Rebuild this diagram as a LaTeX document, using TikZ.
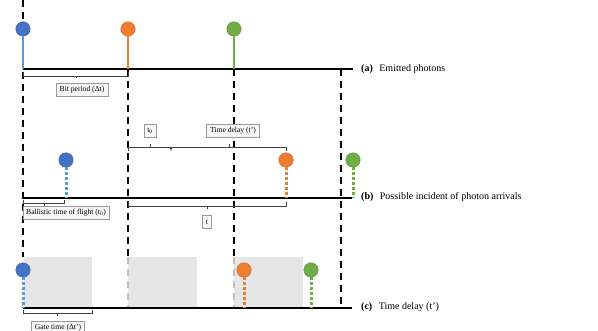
\documentclass[tikz,border=0pt]{standalone}
\usepackage{fontspec}
\setmainfont{Liberation Serif}
\definecolor{pblue}{HTML}{4472C4}
\definecolor{lblue}{HTML}{5B9BD5}
\definecolor{porange}{HTML}{ED7D31}
\definecolor{pgreen}{HTML}{70AD47}
\definecolor{gatefill}{HTML}{E7E6E6}
\tikzset{
  photon/.style={circle, minimum size=14.5pt, inner sep=0pt, draw=#1!85!black, fill=#1, line width=0.4pt},
  axisline/.style={line width=2.1pt, black},
  vdash/.style={line width=2.1pt, dash pattern=on 7pt off 5pt},
  gdash/.style={line width=1.8pt, dash pattern=on 7pt off 5pt, draw=black!25},
  stem/.style={line width=2.7pt},
  dstem/.style={line width=3pt, dash pattern=on 2.8pt off 2.2pt},
  brk/.style={line width=0.7pt, draw=black!75},
  lbox/.style={draw=gray!80, fill=gray!7, font=\fontsize{7.6}{8}\selectfont, inner xsep=3.5pt, inner ysep=1pt, minimum height=13pt},
  lab/.style={anchor=west, font=\fontsize{10}{11}\selectfont, inner sep=0pt},
  gate/.style={fill=gatefill, draw=none}
}
\begin{document}
\begin{tikzpicture}[x=1pt,y=-1pt]
\useasboundingbox (0,0) rectangle (598,331);
% gate windows
\fill[gate] (24,257) rectangle (92,308);
\fill[gate] (128,257) rectangle (197,307);
\fill[gate] (234,257) rectangle (303,307);
% axis coordinates
\coordinate (a0) at (23,69); \coordinate (a1) at (128,69); \coordinate (a2) at (234,69); \coordinate (a3) at (341,69); \coordinate (aE) at (353,69);
\coordinate (b0) at (23,198); \coordinate (bE) at (352,198);
\coordinate (c0) at (23,308); \coordinate (cE) at (352,308);
% vertical dashed lines
\coordinate (top0) at (23,0); \coordinate (g0) at (23,257);
\coordinate (g1) at (128,257); \coordinate (e1) at (128,307);
\coordinate (g2) at (234,257); \coordinate (e2) at (234,307);
\coordinate (e3) at (341,308);
\draw[vdash] (top0) -- (g0);
\draw[vdash] (a1) -- (g1);
\draw[gdash] (g1) -- (e1);
\draw[vdash] (a2) -- (g2);
\draw[gdash] (g2) -- (e2);
\draw[vdash] (a3) -- (e3);
% axes
\draw[axisline] (a0) -- (aE);
\draw[axisline] (b0) -- (bE);
\draw[axisline] (c0) -- (cE);
% axis labels
\node[lab] (la) at (361,69) {\textbf{(a)}\hspace{6.5pt}Emitted photons};
\node[lab] (lb) at (361,197) {\textbf{(b)}\hspace{6.5pt}Possible incident of photon arrivals};
\node[lab] (lc) at (361,307) {\textbf{(c)}\hspace{6.5pt}Time delay (t')};
% (a) emitted photons
\node[photon=pblue] (pa1) at (23,29) {};
\node[photon=porange] (pa2) at (128,29) {};
\node[photon=pgreen] (pa3) at (234,29) {};
\draw[stem, lblue] (pa1.south) -- (a0);
\draw[stem, porange] (pa2.south) -- (a1);
\draw[stem, pgreen] (pa3.south) -- (a2);
% (b) arrivals
\node[photon=pblue] (pb1) at (66,160) {};
\node[photon=porange] (pb2) at (286,160) {};
\node[photon=pgreen] (pb3) at (353,160) {};
\coordinate (bb1) at (66,198); \coordinate (bb2) at (286,198); \coordinate (bb3) at (353,198);
\draw[dstem, lblue] (pb1.south) -- (bb1);
\draw[dstem, porange] (pb2.south) -- (bb2);
\draw[dstem, pgreen] (pb3.south) -- (bb3);
% (c) time delay
\node[photon=pblue] (pc1) at (23,270) {};
\node[photon=porange] (pc2) at (244,270) {};
\node[photon=pgreen] (pc3) at (311,270) {};
\coordinate (cc1) at (23,308); \coordinate (cc2) at (244,308); \coordinate (cc3) at (311,308);
\draw[dstem, lblue] (pc1.south) -- (cc1);
\draw[dstem, porange] (pc2.south) -- (cc2);
\draw[dstem, pgreen] (pc3.south) -- (cc3);
% brackets
\draw[brk] (23,72) -- (23,76) -- (128,76) -- (128,72);
\draw[brk] (76,76) -- (76,78.5);
\draw[brk] (23,200) -- (23,203.5) -- (64,203.5) -- (64,200);
\draw[brk] (44,203.5) -- (44,206);
\draw[brk] (128,202) -- (128,206) -- (286,206) -- (286,202);
\draw[brk] (207,206) -- (207,209);
\draw[brk] (128,151) -- (128,147) -- (286,147) -- (286,151);
\draw[brk] (150,147) -- (150,144.5);
\draw[brk] (170,147) -- (171,150) -- (172,147);
\draw[brk] (229,147) -- (229,144.5);
\draw[brk] (23,310) -- (23,313.5) -- (92,313.5) -- (92,310);
\draw[brk] (57,313.5) -- (57,316);
% label boxes
\node[lbox] (bit) at (82,89.5) {Bit period (Δt)};
\node[lbox] (tzero) at (150,131) {t\textsubscript{0}};
\node[lbox] (tdel) at (233,130.5) {Time delay (t')};
\node[lbox] (ball) at (66,213) {Ballistic time of flight (t\textsubscript{0})};
\node[lbox] (tt) at (207,222) {t};
\node[lbox] (gate) at (58,328) {Gate time (Δt')};
\end{tikzpicture}
\end{document}
